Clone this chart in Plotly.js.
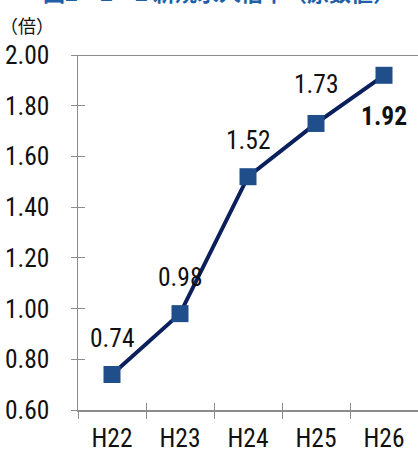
<!DOCTYPE html>
<html><head><meta charset="utf-8">
<script src="https://cdn.plot.ly/plotly-3.0.1.min.js"></script>
<style>html,body{margin:0;padding:0;background:#fff}</style>
</head><body><div id="c" style="width:418px;height:453px"></div>
<script>
const years = ["H22","H23","H24","H25","H26"];
const ratio = [0.74, 0.98, 1.52, 1.73, 1.92];
const labelText = ["0.74","0.98","1.52","1.73","<b>1.92</b>"];
const labelShift = [37, 37, 37, 39, -41];
const yTicks = [0.6,0.8,1.0,1.2,1.4,1.6,1.8,2.0];
const FONT = "Roboto Condensed, DejaVu Sans Condensed, sans-serif";
const FS = 25.5;

const data = [{
  x: years, y: ratio, type: "scatter", mode: "lines+markers",
  line: {color: "#0A1F5C", width: 4},
  marker: {symbol: "square", size: 17, color: "#1F4E8A"},
  cliponaxis: false, hoverinfo: "skip"
},{
  x: years, y: ratio, xaxis: "x2", yaxis: "y2", type: "scatter", mode: "none",
  hoverinfo: "skip", showlegend: false
}];

const labelAnns = years.map((yr, i) => ({
  x: yr, y: ratio[i], xref: "x", yref: "y", text: labelText[i], showarrow: false,
  xanchor: "center", yanchor: "middle", yshift: labelShift[i],
  font: {family: FONT, size: FS, color: "#111"}
}));

const layout = {
  width: 418, height: 453,
  margin: {l: 78, r: 0, t: 55, b: 43},
  showlegend: false,
  paper_bgcolor: "#fff", plot_bgcolor: "#fff",
  font: {family: FONT, color: "#111"},
  xaxis: {
    type: "category", range: [-0.5, 4.5], showgrid: false,
    showline: true, linecolor: "#8c8c8c", linewidth: 1.5,
    ticks: "outside", tickson: "boundaries", ticklen: 7, tickcolor: "#8c8c8c", tickwidth: 1,
    tickfont: {family: FONT, size: FS, color: "#111"}, ticklabelstandoff: 5,
    zeroline: false
  },
  xaxis2: {
    type: "category", range: [-0.5, 4.5], overlaying: "x", matches: "x",
    showgrid: false, showline: false, ticks: "inside", tickson: "boundaries", ticklen: 7,
    tickcolor: "#8c8c8c", showticklabels: false, zeroline: false
  },
  yaxis: {
    range: [0.6, 2.0], tickvals: yTicks, tickformat: ".2f", showgrid: false,
    showline: true, linecolor: "#8c8c8c", linewidth: 1.5,
    ticks: "outside", ticklen: 6, tickcolor: "#8c8c8c", tickwidth: 1,
    tickfont: {family: FONT, size: FS, color: "#111"}, ticklabelstandoff: 16,
    zeroline: false, mirror: false
  },
  yaxis2: {
    range: [0.6, 2.0], tickvals: yTicks, overlaying: "y", matches: "y",
    showgrid: false, showline: false, ticks: "inside", ticklen: 7,
    tickcolor: "#8c8c8c", showticklabels: false, zeroline: false
  },
  shapes: [{type: "line", xref: "paper", yref: "y", x0: -0.018, x1: 1, y0: 2.0, y1: 2.0,
            line: {color: "#8c8c8c", width: 2}}],
  annotations: labelAnns.concat([
    {text: "（倍）", xref: "paper", yref: "paper", x: -0.235, y: 1.085, xanchor: "left", yanchor: "middle",
     showarrow: false, font: {family: "Noto Sans CJK JP", size: 18, color: "#111"}},
    {text: "<b>図2－2－2 新規求人倍率（原数値）</b>", xref: "paper", yref: "paper", x: -0.11, y: 1.13,
     xanchor: "left", yanchor: "bottom", showarrow: false,
     font: {family: "Noto Sans CJK JP", size: 22, color: "#1F5FA8"}}
  ])
};
Plotly.newPlot("c", data, layout, {staticPlot: true, displayModeBar: false});
</script></body></html>
